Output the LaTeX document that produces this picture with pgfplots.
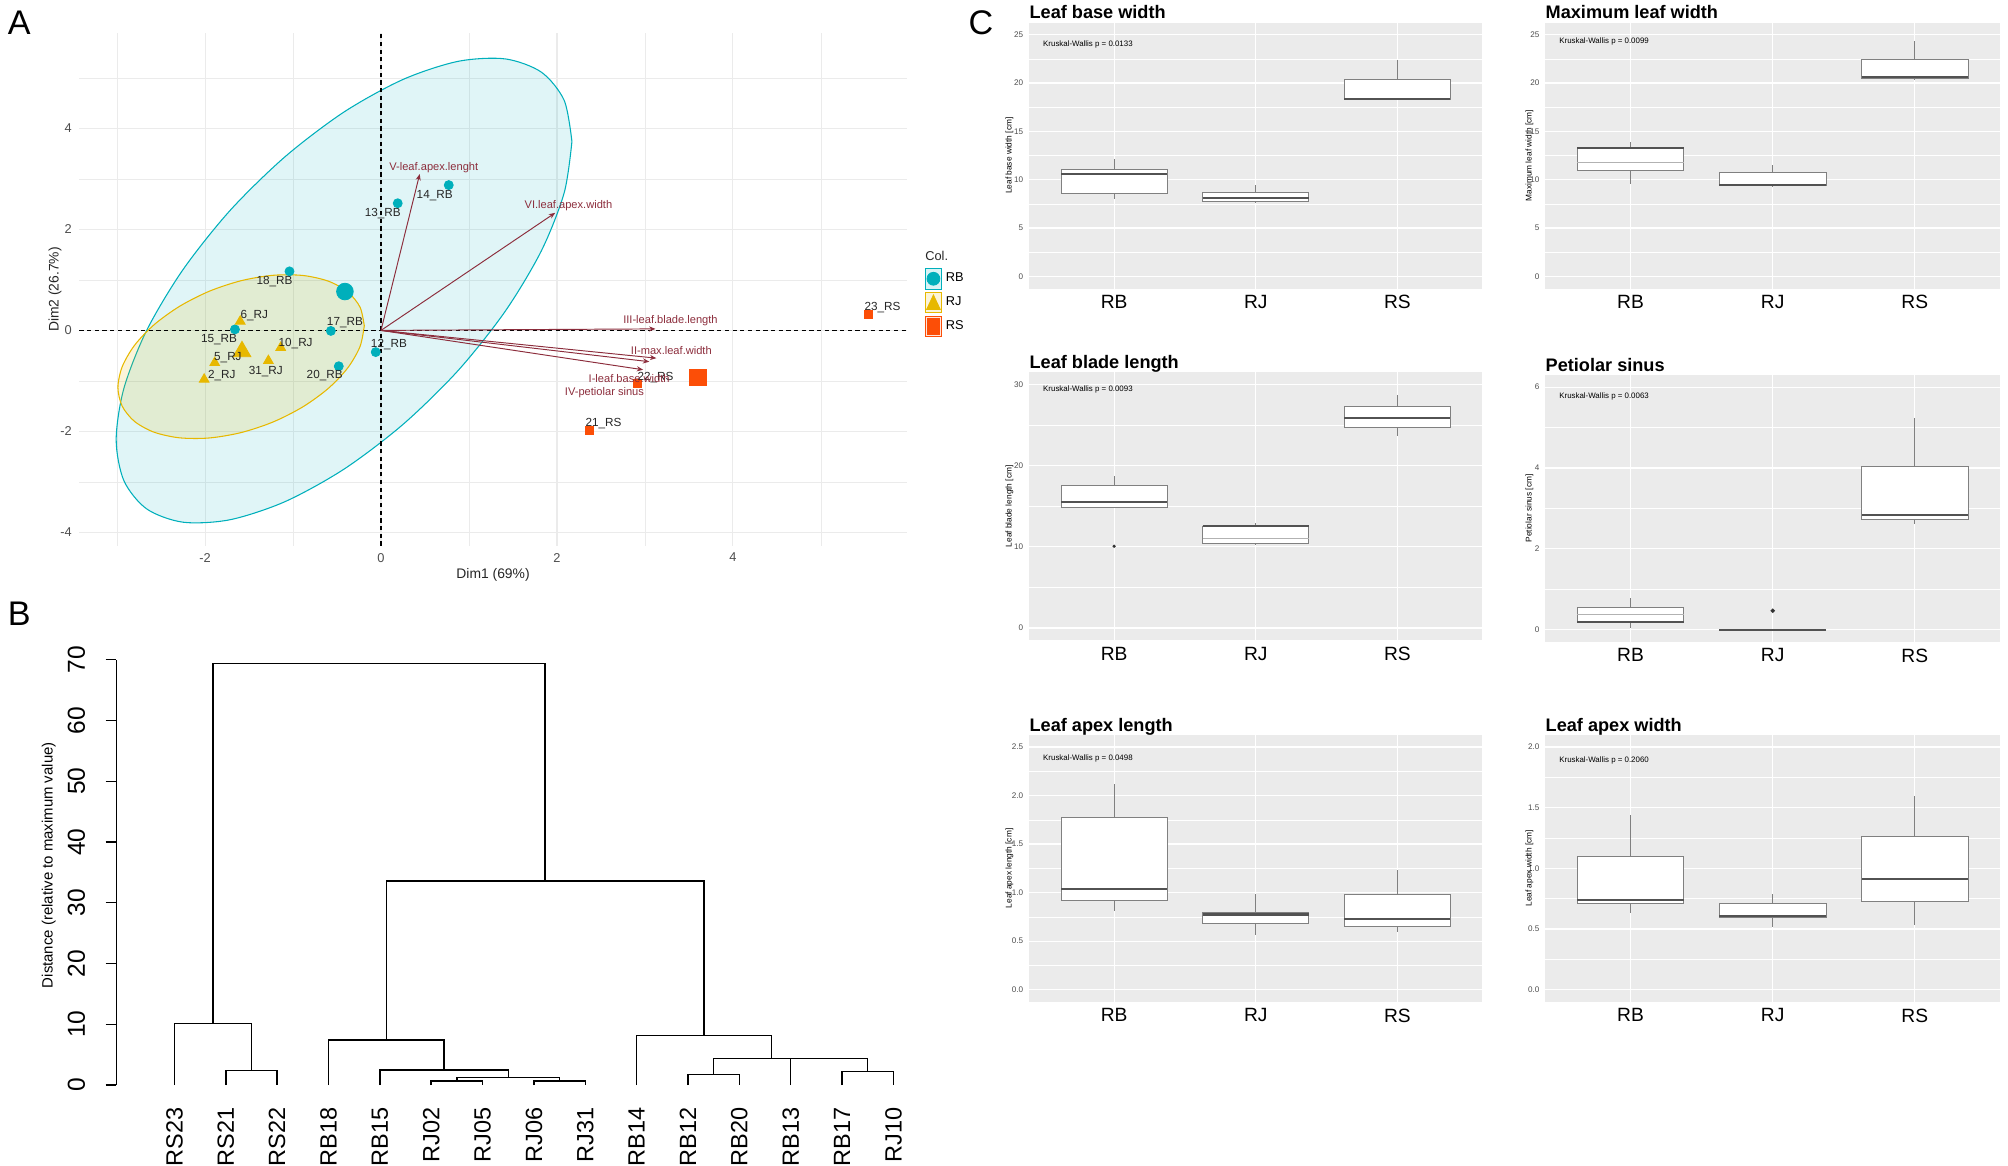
\documentclass[border=0pt]{standalone}
\usepackage{pgfplots}
\pgfplotsset{compat=1.18}
\usepgfplotslibrary{statistics}
\usetikzlibrary{arrows.meta}
\usepackage{fontspec}
\setmainfont{Liberation Sans}

\definecolor{cRB}{HTML}{00AFBB}
\definecolor{cRJ}{HTML}{E7B800}
\definecolor{cRS}{HTML}{FC4E07}
\definecolor{cVar}{HTML}{8C2D3C}
\definecolor{panelbg}{HTML}{EBEBEB}
\definecolor{gridA}{HTML}{EBEBEB}
\definecolor{tickgray}{HTML}{4D4D4D}

\newcommand{\fs}[1]{\fontsize{#1}{#1}\selectfont}

\tikzset{kw/.style={anchor=west, font=\fs{3.7}, inner sep=0pt}}

\pgfplotsset{
  boxpanel/.style={
    scale only axis, anchor=south west,
    xmin=0.4, xmax=3.6,
    xtick={1,2,3}, xticklabels={RB,RJ,RS},
    axis background/.style={fill=panelbg},
    axis line style={draw=none},
    major tick length=0pt, minor tick length=0pt,
    xmajorgrids=true, ymajorgrids=true, yminorgrids=true,
    major grid style={white, line width=0.6pt},
    minor grid style={white, line width=0.3pt},
    /pgf/number format/assume math mode=true,
    xticklabel style={font=\fs{9}, anchor=north, inner sep=0pt, yshift=-3pt},
    yticklabel style={font=\fs{3.8}, text=tickgray, anchor=east, inner sep=0pt, xshift=-2.6pt},
    ylabel style={font=\fs{3.9}, anchor=center},
    every axis title shift=0pt,
    title style={font=\bfseries\fs{8.5}, at={(0,1)}, anchor=base west, inner sep=0pt, yshift=1.8pt},
    clip=false,
    boxplot/draw direction=y,
    boxplot/every box/.style={draw=black!50, fill=white, line width=0.4pt},
    boxplot/every whisker/.style={draw=black!50, line width=0.35pt},
    boxplot/every median/.style={draw=black!68, line width=1pt},
  },
  bx/.style n args={6}{
    boxplot prepared={draw position=#1, lower whisker=#2, lower quartile=#3,
      median=#4, upper quartile=#5, upper whisker=#6,
      box extend=0.75, whisker extend=0},
    boxplot/draw direction=y,
    fill=white, draw=black!50, line width=0.4pt,
    mark=*, mark size=0.55pt, mark options={fill=black!80, draw=black!80},
  },
}

\begin{document}
\begin{tikzpicture}
\path (0pt,0pt) rectangle (940.8pt,-546pt);

% ---------------- panel A: PCA biplot ----------------
\begin{axis}[
  at={(37.2pt,-255.6pt)}, anchor=south west,
  scale only axis, width=387.6pt, height=240pt,
  xmin=-3.428, xmax=5.975, ymin=-4.264, ymax=5.888,
  xtick={-2,0,2,4}, ytick={-4,-2,0,2,4},
  minor xtick={-3,-1,1,3,5}, minor ytick={-3,-1,1,3,5},
  grid=both,
  major grid style={draw=gridA, line width=0.5pt},
  minor grid style={draw=gridA, line width=0.25pt},
  axis line style={draw=none},
  major tick length=0pt, minor tick length=0pt,
  /pgf/number format/assume math mode=true,
  ticklabel style={font=\fs{6}, text=tickgray},
  xlabel={Dim1 (69\%)}, ylabel={Dim2 (26.7\%)},
  label style={font=\fs{6.5}, text=black!85},
  xlabel style={at={(axis description cs:0.5,-0.0575)}, anchor=center},
  ylabel style={at={(axis description cs:-0.0294,0.5)}, anchor=center},
  clip=false,
  legend style={draw=none, fill=none, at={(1.022,0.5425)}, anchor=north west,
    font=\fs{6}, row sep=1.2pt, inner sep=0pt},
  legend cell align=left,
]
\addlegendimage{legend image code/.code={
  \draw[draw=cRB, fill=cRB!15, line width=0.4pt] (0pt,-4.8pt) rectangle (7.2pt,4.8pt);
  \fill[cRB] (3.6pt,0pt) circle (3pt);}}
\addlegendentry{RB}
\addlegendimage{legend image code/.code={
  \draw[draw=cRJ, fill=cRJ!15, line width=0.4pt] (0pt,-4.8pt) rectangle (7.2pt,4.8pt);
  \fill[cRJ] (0.4pt,-3.2pt) -- (6.8pt,-3.2pt) -- (3.6pt,3.6pt) -- cycle;}}
\addlegendentry{RJ}
\addlegendimage{legend image code/.code={
  \draw[draw=cRS, fill=cRS!15, line width=0.4pt] (0pt,-4.8pt) rectangle (7.2pt,4.8pt);
  \fill[cRS] (0.6pt,-3.6pt) rectangle (6.6pt,3.6pt);}}
\addlegendentry{RS}

% confidence ellipses
\addplot[smooth, draw=cRB, line width=0.5pt, fill=cRB, fill opacity=0.12] coordinates {
(2.170,3.744)(2.082,4.559)(1.823,5.118)(1.411,5.381)(0.875,5.332)(0.250,4.973)
(-0.420,4.329)(-1.090,3.443)(-1.715,2.378)(-2.251,1.203)(-2.663,0.002)(-2.922,-1.147)
(-3.010,-2.164)(-2.922,-2.979)(-2.663,-3.538)(-2.251,-3.801)(-1.715,-3.752)(-1.090,-3.393)
(-0.420,-2.749)(0.250,-1.863)(0.875,-0.798)(1.411,0.377)(1.823,1.578)(2.082,2.727)(2.170,3.744)};
\addplot[smooth, draw=cRJ, line width=0.5pt, fill=cRJ, fill opacity=0.15] coordinates {
(-0.190,0.092)(-0.238,0.460)(-0.378,0.763)(-0.600,0.977)(-0.890,1.089)(-1.228,1.092)
(-1.590,0.985)(-1.952,0.776)(-2.290,0.477)(-2.580,0.111)(-2.802,-0.297)(-2.942,-0.722)
(-2.990,-1.132)(-2.942,-1.500)(-2.802,-1.803)(-2.580,-2.017)(-2.290,-2.129)(-1.952,-2.132)
(-1.590,-2.025)(-1.228,-1.816)(-0.890,-1.517)(-0.600,-1.151)(-0.378,-0.743)(-0.238,-0.318)(-0.190,0.092)};

% axes through origin
\addplot[black, line width=0.5pt, dash pattern=on 2pt off 1.6pt] coordinates {(-3.428,0)(5.975,0)};
\addplot[black, line width=0.5pt, dash pattern=on 2pt off 1.6pt] coordinates {(0,-4.264)(0,5.888)};

% variable arrows
\addplot[cVar, line width=0.45pt, -{Stealth[length=3pt,width=2.4pt]}] coordinates {(0,0)(0.44,3.10)};
\addplot[cVar, line width=0.45pt, -{Stealth[length=3pt,width=2.4pt]}] coordinates {(0,0)(1.98,2.33)};
\addplot[cVar, line width=0.45pt, -{Stealth[length=3pt,width=2.4pt]}] coordinates {(0,0)(3.12,0.03)};
\addplot[cVar, line width=0.45pt, -{Stealth[length=3pt,width=2.4pt]}] coordinates {(0,0)(3.13,-0.55)};
\addplot[cVar, line width=0.45pt, -{Stealth[length=3pt,width=2.4pt]}] coordinates {(0,0)(3.05,-0.62)};
\addplot[cVar, line width=0.45pt, -{Stealth[length=3pt,width=2.4pt]}] coordinates {(0,0)(2.98,-0.78)};

% individuals
\addplot[only marks, mark=*, mark size=2.1pt, mark options={fill=cRB, draw=cRB}] coordinates {
(0.19,2.52)(0.77,2.88)(-1.04,1.17)(-0.57,-0.01)(-1.66,0.02)(-0.06,-0.43)(-0.48,-0.71)};
\addplot[only marks, mark=*, mark size=3.9pt, mark options={fill=cRB, draw=cRB}] coordinates {(-0.41,0.77)};
\addplot[only marks, mark=triangle*, mark size=2.6pt, mark options={fill=cRJ, draw=cRJ}] coordinates {
(-1.60,0.18)(-1.14,-0.34)(-1.89,-0.64)(-1.28,-0.60)(-2.01,-0.97)};
\addplot[only marks, mark=triangle*, mark size=4.8pt, mark options={fill=cRJ, draw=cRJ}] coordinates {(-1.58,-0.42)};
\addplot[only marks, mark=square*, mark size=1.9pt, mark options={fill=cRS, draw=cRS}] coordinates {
(5.54,0.31)(2.91,-1.05)(2.37,-1.99)};
\addplot[only marks, mark=square*, mark size=3.9pt, mark options={fill=cRS, draw=cRS}] coordinates {(3.60,-0.93)};

% individual labels
\addplot[only marks, mark=none, nodes near coords, point meta=explicit symbolic,
  every node near coord/.append style={anchor=center, font=\fs{5.5}, inner sep=0pt, text=black!85}]
  coordinates {
(0.02,2.31)[13\_RB] (0.61,2.67)[14\_RB] (-1.21,0.97)[18\_RB] (-0.41,0.15)[17\_RB]
(-1.84,-0.18)[15\_RB] (0.09,-0.29)[12\_RB] (-0.64,-0.89)[20\_RB]
(-1.44,0.30)[6\_RJ] (-0.97,-0.26)[10\_RJ] (-1.74,-0.53)[5\_RJ] (-1.31,-0.82)[31\_RJ] (-1.81,-0.89)[2\_RJ]
(5.70,0.46)[23\_RS] (3.12,-0.93)[22\_RS] (2.53,-1.84)[21\_RS]};

% variable labels
\addplot[only marks, mark=none, nodes near coords, point meta=explicit symbolic,
  every node near coord/.append style={anchor=center, font=\fs{5.2}, inner sep=0pt, text=cVar}]
  coordinates {
(0.60,3.23)[V-leaf.apex.lenght] (2.13,2.47)[VI.leaf.apex.width]
(3.29,0.20)[III-leaf.blade.length] (3.30,-0.40)[II-max.leaf.width]
(2.82,-0.95)[I-leaf.base.width] (2.54,-1.24)[IV-petiolar sinus]};

\node[anchor=west, font=\fs{6}, inner sep=0pt, text=black!85] at (rel axis cs:1.022,0.565) {Col.};
\end{axis}

% ---------------- panel B: dendrogram ----------------
\begin{axis}[
  at={(54.54pt,-508.38pt)}, anchor=south west,
  scale only axis, width=383.3pt, height=199.3pt,
  xmin=-0.13, xmax=15.8, ymin=0, ymax=70,
  axis y line*=left, axis x line*=bottom,
  x axis line style={draw=none},
  y axis line style={line width=0.6pt},
  xtick={1,...,15},
  xticklabels={RS23,RS21,RS22,RB18,RB15,RJ02,RJ05,RJ06,RJ31,RB14,RB12,RB20,RB13,RB17,RJ10},
  xtick style={draw=none, /pgfplots/major tick length=0pt},
  ytick={0,10,...,70},
  ytick style={line width=0.6pt, black},
  tick align=outside, major tick length=5pt,
  /pgf/number format/assume math mode=true,
  xticklabel style={rotate=90, anchor=east, inner sep=0pt, font=\fs{11}},
  yticklabel style={rotate=90, anchor=south, inner sep=0pt, font=\fs{11.5}},
  xticklabel shift=5.2pt, yticklabel shift=9.5pt,
  ylabel={Distance (relative to maximum value)},
  ylabel style={at={(axis description cs:-0.0827,0.517)}, anchor=center, font=\fs{7}},
  clip=false,
]
\addplot[black, line width=0.7pt] coordinates {(2,0)(2,2.41)(3,2.41)(3,0)};
\addplot[black, line width=0.7pt] coordinates {(1,0)(1,10.1)(2.5,10.1)(2.5,2.41)};
\addplot[black, line width=0.7pt] coordinates {(6,0)(6,0.66)(7,0.66)(7,0)};
\addplot[black, line width=0.7pt] coordinates {(8,0)(8,0.71)(9,0.71)(9,0)};
\addplot[black, line width=0.7pt] coordinates {(6.5,0.66)(6.5,1.21)(8.5,1.21)(8.5,0.71)};
\addplot[black, line width=0.7pt] coordinates {(5,0)(5,2.47)(7.5,2.47)(7.5,1.21)};
\addplot[black, line width=0.7pt] coordinates {(4,0)(4,7.4)(6.25,7.4)(6.25,2.47)};
\addplot[black, line width=0.7pt] coordinates {(11,0)(11,1.7)(12,1.7)(12,0)};
\addplot[black, line width=0.7pt] coordinates {(14,0)(14,2.25)(15,2.25)(15,0)};
\addplot[black, line width=0.7pt] coordinates {(13,0)(13,4.37)(14.5,4.37)(14.5,2.25)};
\addplot[black, line width=0.7pt] coordinates {(11.5,1.7)(11.5,4.4)(13.75,4.4)(13.75,4.37)};
\addplot[black, line width=0.7pt] coordinates {(10,0)(10,8.12)(12.625,8.12)(12.625,4.4)};
\addplot[black, line width=0.7pt] coordinates {(5.125,7.4)(5.125,33.6)(11.3125,33.6)(11.3125,8.12)};
\addplot[black, line width=0.7pt] coordinates {(1.75,10.1)(1.75,69.4)(8.21875,69.4)(8.21875,33.6)};
\end{axis}

% ---------------- panel C: boxplots ----------------
\begin{axis}[boxpanel, at={(482.2pt,-135.2pt)}, width=212.3pt, height=124.6pt,
  ymin=-1.25, ymax=26.25, ytick={0,5,...,25}, minor ytick={2.5,7.5,...,22.5},
  title={Leaf base width}, ylabel={Leaf base width [cm]},
  ylabel style={at={(axis description cs:-0.0433,0.5)}}]
\addplot[bx={1}{8.0}{8.57}{10.6}{11.1}{12.2}] coordinates {};
\addplot[bx={2}{7.6}{7.72}{8.09}{8.71}{9.43}] coordinates {};
\addplot[bx={3}{18.31}{18.31}{18.31}{20.37}{22.43}] coordinates {};
\node[kw] at (rel axis cs:0.03,0.918) {Kruskal-Wallis p = 0.0133};
\end{axis}

\begin{axis}[boxpanel, at={(724.0pt,-135.2pt)}, width=213.1pt, height=124.6pt,
  ymin=-1.25, ymax=26.25, ytick={0,5,...,25}, minor ytick={2.5,7.5,...,22.5},
  title={Maximum leaf width}, ylabel={Maximum leaf width [cm]},
  ylabel style={at={(axis description cs:-0.0347,0.5)}}]
\addplot[bx={1}{9.6}{10.96}{13.32}{13.32}{13.94}] coordinates {};
\addplot[black!30, line width=0.5pt] coordinates {(0.625,11.8)(1.375,11.8)};
\addplot[bx={2}{9.3}{9.42}{9.42}{10.75}{11.54}] coordinates {};
\addplot[bx={3}{20.35}{20.45}{20.62}{22.40}{24.3}] coordinates {};
\node[kw] at (rel axis cs:0.03,0.929) {Kruskal-Wallis p = 0.0099};
\end{axis}

\begin{axis}[boxpanel, at={(482.2pt,-299.9pt)}, width=212.3pt, height=125.4pt,
  ymin=-1.5, ymax=31.5, ytick={0,10,20,30}, minor ytick={5,15,25},
  title={Leaf blade length}, ylabel={Leaf blade length [cm]},
  ylabel style={at={(axis description cs:-0.0433,0.5)}}]
\addplot[bx={1}{14.85}{14.85}{15.51}{17.54}{18.7}] coordinates {(1,10.08)};
\addplot[bx={2}{10.29}{10.37}{12.57}{12.57}{12.98}] coordinates {};
\addplot[black!30, line width=0.5pt] coordinates {(1.625,11.03)(2.375,11.03)};
\addplot[bx={3}{23.67}{24.7}{25.86}{27.3}{28.7}] coordinates {};
\node[kw] at (rel axis cs:0.03,0.938) {Kruskal-Wallis p = 0.0093};
\end{axis}

\begin{axis}[boxpanel, at={(724.0pt,-300.7pt)}, width=213.1pt, height=125.0pt,
  ymin=-0.3, ymax=6.3, ytick={0,2,4,6}, minor ytick={1,3,5},
  title={Petiolar sinus}, ylabel={Petiolar sinus [cm]},
  ylabel style={at={(axis description cs:-0.0347,0.5)}}]
\addplot[bx={1}{0.04}{0.18}{0.18}{0.54}{0.79}] coordinates {};
\addplot[black!30, line width=0.5pt] coordinates {(0.625,0.385)(1.375,0.385)};
\addplot[bx={2}{0}{0}{0}{0}{0}, draw=black!40, line width=0.8pt] coordinates {(2,0.47)};
\addplot[bx={3}{2.61}{2.73}{2.84}{4.05}{5.23}] coordinates {};
\node[kw] at (rel axis cs:0.03,0.919) {Kruskal-Wallis p = 0.0063};
\end{axis}

\begin{axis}[boxpanel, at={(482.2pt,-469.4pt)}, width=212.3pt, height=125.1pt,
  ymin=-0.125, ymax=2.625, ytick={0,0.5,...,2.5}, minor ytick={0.25,0.75,...,2.25},
  yticklabel style={/pgf/number format/.cd, fixed, fixed zerofill, precision=1},
  title={Leaf apex length}, ylabel={Leaf apex length [cm]},
  ylabel style={at={(axis description cs:-0.0433,0.5)}}]
\addplot[bx={1}{0.813}{0.916}{1.036}{1.773}{2.116}] coordinates {};
\addplot[bx={2}{0.569}{0.682}{0.775}{0.796}{0.984}] coordinates {};
\addplot[bx={3}{0.59}{0.655}{0.730}{0.977}{1.235}] coordinates {};
\node[kw] at (rel axis cs:0.03,0.913) {Kruskal-Wallis p = 0.0498};
\end{axis}

\begin{axis}[boxpanel, at={(724.0pt,-469.4pt)}, width=213.1pt, height=125.1pt,
  ymin=-0.1, ymax=2.1, ytick={0,0.5,...,2}, minor ytick={0.25,0.75,...,1.75},
  yticklabel style={/pgf/number format/.cd, fixed, fixed zerofill, precision=1},
  title={Leaf apex width}, ylabel={Leaf apex width [cm]},
  ylabel style={at={(axis description cs:-0.0347,0.5)}}]
\addplot[bx={1}{0.636}{0.713}{0.743}{1.097}{1.438}] coordinates {};
\addplot[bx={2}{0.513}{0.595}{0.609}{0.708}{0.787}] coordinates {};
\addplot[bx={3}{0.535}{0.730}{0.916}{1.262}{1.597}] coordinates {};
\node[kw] at (rel axis cs:0.03,0.906) {Kruskal-Wallis p = 0.2060};
\end{axis}

% panel letters
\node[font=\fs{16}, inner sep=0pt] at (9pt,-10.8pt) {A};
\node[font=\fs{16}, inner sep=0pt] at (9pt,-287.4pt) {B};
\node[font=\fs{16}, inner sep=0pt] at (459.6pt,-10.8pt) {C};
\end{tikzpicture}
\end{document}
